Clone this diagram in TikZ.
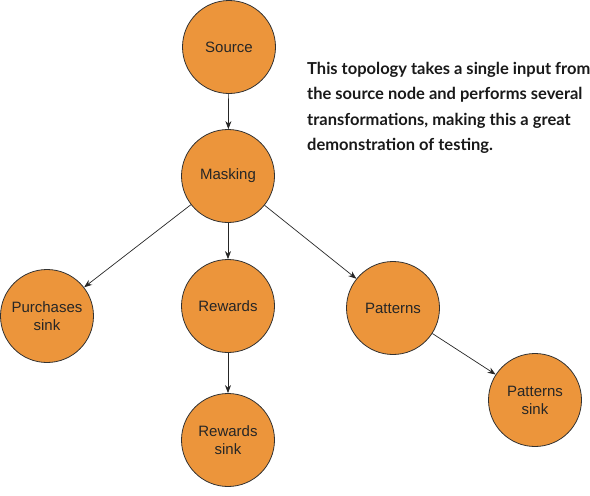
\documentclass[tikz,border=0pt]{standalone}
\usepackage{fontspec}
\setmainfont{Liberation Sans}
\newfontfamily\notefont{Lato}
\usetikzlibrary{arrows.meta}
\definecolor{nodeorange}{RGB}{236,149,59}
\definecolor{nodeborder}{RGB}{50,50,50}
\begin{document}
\begin{tikzpicture}[x=1pt,y=-1pt,
  proc/.style={circle,draw=nodeborder,line width=0.8pt,fill=nodeorange,minimum size=93pt,inner sep=0pt,align=center,font=\fontsize{15}{18}\selectfont,text=black!85},
  link/.style={-{Stealth[length=8pt,width=6pt]},line width=0.7pt,black!85}]
\useasboundingbox (0,0) rectangle (590,496);
\node[proc] (source) at (229,47) {Source};
\node[proc] (masking) at (228,176) {Masking};
\node[proc] (purch) at (47,316) {Purchases\\sink};
\node[proc] (rewards) at (228,306) {Rewards};
\node[proc] (patterns) at (393,308) {Patterns};
\node[proc] (rsink) at (228,440) {Rewards\\sink};
\node[proc] (psink) at (535,400) {Patterns\\sink};
\node[anchor=north west,align=left,inner sep=0pt,font=\notefont\bfseries\fontsize{16.5}{25.5}\selectfont,text=black!90] (note) at (307,62)
 {This topology takes a single input from\\the source node and performs several\\transformations, making this a great\\demonstration of testing.};
\draw[link] (source) -- (masking);
\draw[link] (masking) -- (purch);
\draw[link] (masking) -- (rewards);
\draw[link] (masking) -- (patterns);
\draw[link] (rewards) -- (rsink);
\draw[link] (patterns) -- (psink);
\end{tikzpicture}
\end{document}
